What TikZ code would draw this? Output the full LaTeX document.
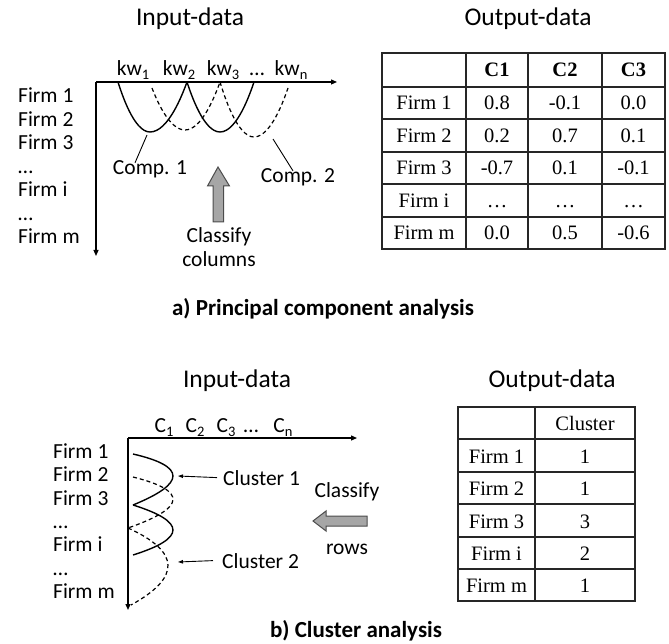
\documentclass[tikz,border=0pt]{standalone}
\usepackage{fontspec}
\setmainfont{Liberation Serif}
\newfontfamily\calfont{Carlito}
\usetikzlibrary{arrows.meta}
\newcommand\sbs[1]{\raisebox{-4pt}{\fontsize{14.5}{14.5}\selectfont #1}}
\begin{document}
\begin{tikzpicture}[x=1pt,y=-1pt,
  lbl/.style={font=\calfont\fontsize{21.5}{21.5}\selectfont, inner sep=0pt, anchor=base},
  lblw/.style={lbl, anchor=base west},
  head/.style={font=\calfont\fontsize{25.5}{25.5}\selectfont, inner sep=0pt, anchor=base},
  cell/.style={font=\fontsize{20.5}{20.5}\selectfont, inner sep=0pt, anchor=base},
  hcell/.style={cell, font=\bfseries\fontsize{20.5}{20.5}\selectfont},
  capt/.style={font=\calfont\bfseries\fontsize{23}{23}\selectfont, inner sep=0pt, anchor=base},
  axis/.style={line width=1.2pt, -{Triangle[length=6pt,width=5pt]}},
  curve/.style={line width=1.4pt},
  dcurve/.style={line width=1.2pt, dash pattern=on 4pt off 3pt},
  tgrid/.style={line width=1.5pt, black!85},
  ptr/.style={line width=0.9pt},
  ptra/.style={line width=0.9pt, -{Triangle[length=5pt,width=3.5pt]}},
  fat/.style={fill=black!35, draw=black!70, line width=1pt, line join=miter}
]
\useasboundingbox (0,0) rectangle (669,644);

% ================= a) =================
\node[head] (in1) at (190,26) {Input-data};
\node[head] (out1) at (528,26) {Output-data};

\node[lbl] (kw1) at (133,76) {kw\sbs{1}};
\node[lbl] (kw2) at (179,76) {kw\sbs{2}};
\node[lbl] (kw3) at (223,76) {kw\sbs{3}};
\node[lbl] (kwd) at (257,76) {…};
\node[lbl] (kwn) at (291,76) {kw\sbs{n}};

\node[lblw] (fa1) at (18,103) {Firm 1};
\node[lblw] (fa2) at (18,126.5) {Firm 2};
\node[lblw] (fa3) at (18,150) {Firm 3};
\node[lblw] (fa4) at (18,173.5) {…};
\node[lblw] (fa5) at (18,197) {Firm i};
\node[lblw] (fa6) at (18,220.5) {…};
\node[lblw] (fa7) at (18,244) {Firm m};

\coordinate (o1) at (96,82);
\coordinate (xe1) at (337,82);
\coordinate (ye1) at (96,256);
\draw[axis] (o1) -- (xe1);
\draw[axis] (o1) -- (ye1);

\draw[curve] (118,82) parabola bend (150,132) (187,82);
\draw[curve] (187,82) parabola bend (220,132) (254,82);
\draw[dcurve] (152,88) parabola bend (185,130) (220,82);
\draw[dcurve] (220,82) parabola bend (254,137) (288,88);

\node[lbl] (cp1) at (150,175) {Comp. 1};
\node[lbl] (cp2) at (298,183) {Comp. 2};
\coordinate (cp1t) at (147,135);
\coordinate (cp2t) at (273,139);
\draw[ptr] ([xshift=-15pt,yshift=-2pt]cp1.north) -- (cp1t);
\draw[ptr] ([xshift=-5pt,yshift=-2pt]cp2.north) -- (cp2t);

\draw[fat] (218,167) -- (229.5,186) -- (223.5,186) -- (223.5,222) -- (213,222) -- (213,186) -- (207.5,186) -- cycle;
\node[lbl] (cls1) at (219,243) {Classify};
\node[lbl] (cls2) at (219,267) {columns};

\node[capt] (capa) at (323,316) {a) Principal component analysis};

% table a
\draw[tgrid] (382,53) rectangle (665,249);
\foreach \xx in {466,528,602} \draw[tgrid] (\xx,53) -- (\xx,249);
\foreach \yy in {87,119,152,184,217} \draw[tgrid] (382,\yy) -- (665,\yy);

\node[hcell] (h1) at (497,77) {C1};
\node[hcell] (h2) at (565,77) {C2};
\node[hcell] (h3) at (633.5,77) {C3};

\node[cell] (r1) at (424,110) {Firm 1};
\node[cell] (r1a) at (497,110) {0.8};
\node[cell] (r1b) at (565,110) {-0.1};
\node[cell] (r1c) at (633.5,110) {0.0};

\node[cell] (r2) at (424,142.5) {Firm 2};
\node[cell] (r2a) at (497,142.5) {0.2};
\node[cell] (r2b) at (565,142.5) {0.7};
\node[cell] (r2c) at (633.5,142.5) {0.1};

\node[cell] (r3) at (424,175) {Firm 3};
\node[cell] (r3a) at (497,175) {-0.7};
\node[cell] (r3b) at (565,175) {0.1};
\node[cell] (r3c) at (633.5,175) {-0.1};

\node[cell] (r4) at (424,207.5) {Firm i};
\node[cell] (r4a) at (497,207.5) {…};
\node[cell] (r4b) at (565,207.5) {…};
\node[cell] (r4c) at (633.5,207.5) {…};

\node[cell] (r5) at (424,240) {Firm m};
\node[cell] (r5a) at (497,240) {0.0};
\node[cell] (r5b) at (565,240) {0.5};
\node[cell] (r5c) at (633.5,240) {-0.6};

% ================= b) =================
\node[head] (in2) at (237,387) {Input-data};
\node[head] (out2) at (552,387) {Output-data};

\node[lbl] (cc1) at (164,432) {C\sbs{1}};
\node[lbl] (cc2) at (195,432) {C\sbs{2}};
\node[lbl] (cc3) at (226,432) {C\sbs{3}};
\node[lbl] (ccd) at (251,432) {…};
\node[lbl] (ccn) at (283,432) {C\sbs{n}};

\node[lblw] (fb1) at (53,458) {Firm 1};
\node[lblw] (fb2) at (53,481.5) {Firm 2};
\node[lblw] (fb3) at (53,505) {Firm 3};
\node[lblw] (fb4) at (53,528) {…};
\node[lblw] (fb5) at (53,551.5) {Firm i};
\node[lblw] (fb6) at (53,575) {…};
\node[lblw] (fb7) at (53,598) {Firm m};

\coordinate (o2) at (128,438);
\coordinate (xe2) at (357,438);
\coordinate (ye2) at (128,610);
\draw[axis] (o2) -- (xe2);
\draw[axis] (o2) -- (ye2);

\draw[curve] (133,454) .. controls (186.3,466.3) and (186.3,483.3) .. (133,505);
\draw[curve] (133,505) .. controls (186.3,521.7) and (186.3,538.3) .. (133,555);
\draw[dcurve] (133,477) .. controls (188,490.7) and (186.3,507.7) .. (128,528);
\draw[dcurve] (128,528) .. controls (180.3,551.7) and (181.3,577.3) .. (131,605);

\node[lblw] (cl1) at (223,485) {Cluster 1};
\node[lblw] (cl2) at (222,568) {Cluster 2};
\coordinate (cl1t) at (178,476);
\coordinate (cl2t) at (178,562);
\draw[ptra] ([xshift=-6pt]cl1.west) -- (cl1t);
\draw[ptra] ([xshift=-9pt]cl2.west) -- (cl2t);

\draw[fat] (313,521) -- (326,511) -- (326,516) -- (367,516) -- (367,526) -- (326,526) -- (326,531) -- cycle;
\node[lbl] (cls3) at (347,497) {Classify};
\node[lbl] (cls4) at (347,554) {rows};

\node[capt] (capb) at (356,637) {b) Cluster analysis};

% table b
\draw[tgrid] (458,407) rectangle (635,601);
\draw[tgrid] (535,407) -- (535,601);
\foreach \yy in {439,472,504,537,569} \draw[tgrid] (458,\yy) -- (635,\yy);

\node[cell] (hb) at (585,430) {Cluster};
\node[cell] (s1) at (496.5,463) {Firm 1};
\node[cell] (s1a) at (585,463) {1};
\node[cell] (s2) at (496.5,495) {Firm 2};
\node[cell] (s2a) at (585,495) {1};
\node[cell] (s3) at (496.5,528) {Firm 3};
\node[cell] (s3a) at (585,528) {3};
\node[cell] (s4) at (496.5,560) {Firm i};
\node[cell] (s4a) at (585,560) {2};
\node[cell] (s5) at (496.5,592) {Firm m};
\node[cell] (s5a) at (585,592) {1};
\end{tikzpicture}
\end{document}
